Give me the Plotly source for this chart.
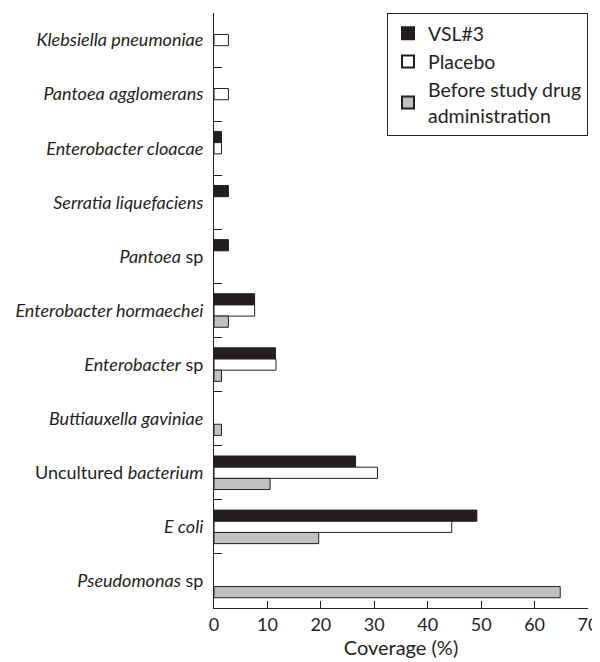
"""Coverage of bacterial species by treatment group - horizontal grouped bars."""

import plotly.graph_objects as go

# Categories listed top to bottom as they appear on the chart
species = [
    "<i>Klebsiella pneumoniae</i>",
    "<i>Pantoea agglomerans</i>",
    "<i>Enterobacter cloacae</i>",
    "<i>Serratia liquefaciens</i>",
    "<i>Pantoea</i> sp",
    "<i>Enterobacter hormaechei</i>",
    "<i>Enterobacter</i> sp",
    "<i>Buttiauxella gaviniae</i>",
    "Uncultured <i>bacterium</i>",
    "<i>E coli</i>",
    "<i>Pseudomonas</i> sp",
]

vsl3 = [None, None, 1.4, 2.7, 2.7, 7.6, 11.5, None, 26.5, 49.2, None]
placebo = [2.7, 2.7, 1.4, None, None, 7.6, 11.6, None, 30.6, 44.5, None]
before = [None, None, None, None, None, 2.7, 1.4, 1.4, 10.5, 19.6, 64.8]

x_ticks = [0, 10, 20, 30, 40, 50, 60, 70]

INK = "#231f20"
FONT = "Lato"

fig = go.Figure()

fig.add_trace(go.Bar(
    y=species, x=vsl3, orientation="h", name="VSL#3",
    marker=dict(color=INK, line=dict(color=INK, width=1)),
))
fig.add_trace(go.Bar(
    y=species, x=placebo, orientation="h", name="Placebo",
    marker=dict(color="white", line=dict(color=INK, width=1)),
))
fig.add_trace(go.Bar(
    y=species, x=before, orientation="h",
    name="Before study drug<br>administration",
    marker=dict(color="#c0c0c3", line=dict(color=INK, width=1)),
))

# the page body adds an 8px offset, so the figure is sized to fit what is left
fig.update_layout(
    template="none",
    width=592,
    height=654,
    barmode="group",
    bargap=0.38,
    bargroupgap=0,
    plot_bgcolor="white",
    paper_bgcolor="white",
    margin=dict(l=206, r=12, t=5, b=54, pad=0),
    font=dict(family=FONT, color=INK, size=17),
    legend=dict(
        x=1, y=1, xanchor="right", yanchor="top",
        bordercolor=INK, borderwidth=1,
        font=dict(size=19.5, color=INK),
        itemsizing="constant",
        tracegroupgap=4,
        bgcolor="white",
    ),
)

fig.update_xaxes(
    range=[0, 70],
    tickvals=x_ticks,
    ticks="inside", ticklen=7, tickcolor=INK,
    showline=True, linecolor=INK, linewidth=1,
    showgrid=False, zeroline=False,
    automargin=False,
    tickfont=dict(size=18),
    ticklabelstandoff=0,
    title=dict(text="Coverage (%)", font=dict(size=20), standoff=4),
)

fig.update_yaxes(
    autorange="reversed",
    type="category",
    ticks="inside", tickson="boundaries", ticklen=8, tickcolor=INK,
    showline=True, linecolor=INK, linewidth=1,
    showgrid=False, zeroline=False,
    automargin=False,
    tickfont=dict(size=18),
    ticklabelstandoff=6,
)

fig.write_html("out.html")
